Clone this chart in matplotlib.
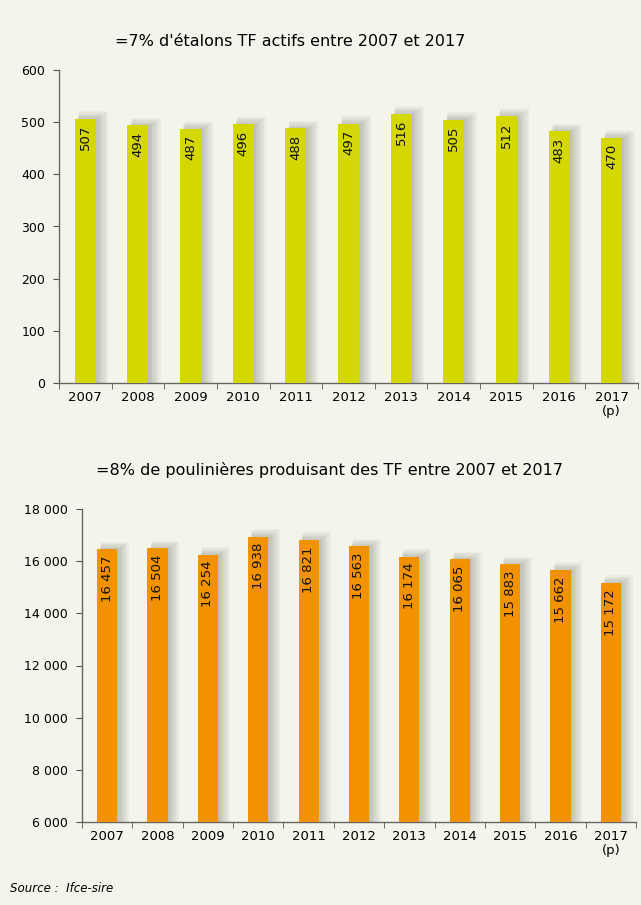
import numpy as np
import matplotlib.pyplot as plt

years = ["2007", "2008", "2009", "2010", "2011", "2012", "2013", "2014", "2015", "2016", "2017\n(p)"]
etalons = [507, 494, 487, 496, 488, 497, 516, 505, 512, 483, 470]
poulinieres = [16457, 16504, 16254, 16938, 16821, 16563, 16174, 16065, 15883, 15662, 15172]

title1 = "=7% d'étalons TF actifs entre 2007 et 2017"
title2 = "=8% de poulinières produisant des TF entre 2007 et 2017"

bg = "#f4f5ea"
W, H = 641, 905

plt.rcParams['font.family'] = ['DejaVu Sans']

fig = plt.figure(figsize=(W / 100, H / 100), dpi=100, facecolor=bg)


def fmt(v):
    return f"{v:,}".replace(",", " ")


def draw(rect, values, color, ymin, ymax, step, title, title_xy):
    ax = fig.add_axes(rect)
    ax.set_facecolor(bg)
    x = np.arange(len(values))
    w = 0.4
    span = ymax - ymin
    # soft shadow to the right
    for k in range(7):
        off = 0.04 + k * 0.02
        ax.bar(x + off, np.array(values) - ymin + span * 0.004 * k, width=w + k * 0.025, bottom=ymin,
               color="#000000", alpha=0.03, zorder=1, linewidth=0)
    ax.bar(x, np.array(values) - ymin, width=w, bottom=ymin, color=color, zorder=3, linewidth=0)
    for xi, v in zip(x, values):
        ax.text(xi, v - span * 0.02, fmt(v), rotation=90, ha="center", va="top",
                fontsize=9.5, zorder=4, color="#111111")
    ax.set_xlim(-0.5, len(values) - 0.5)
    ax.set_ylim(ymin, ymax)
    ax.set_yticks(np.arange(ymin, ymax + 1, step))
    ax.set_yticklabels([fmt(t) for t in range(ymin, ymax + 1, step)], fontsize=9)
    ax.set_xticks(x)
    ax.set_xticklabels(years, fontsize=9.5, linespacing=1.1)
    ax.set_xticks(np.arange(-0.5, len(values), 1), minor=True)
    ax.tick_params(axis="x", which="major", length=0, pad=6)
    ax.tick_params(axis="x", which="minor", length=4, color="#555555")
    ax.tick_params(axis="y", length=4, color="#555555", pad=6)
    for s in ["top", "right"]:
        ax.spines[s].set_visible(False)
    for s in ["left", "bottom"]:
        ax.spines[s].set_color("#666666")
        ax.spines[s].set_linewidth(1)
    fig.text(title_xy[0] / W, 1 - title_xy[1] / H, title, ha="center", va="center", fontsize=11.5)
    return ax


draw([59 / W, 1 - 383 / H, (638 - 59) / W, (383 - 70) / H], etalons, "#d4d700",
     0, 600, 100, title1, (290, 42))
draw([82 / W, 1 - 822 / H, (636 - 82) / W, (822 - 509) / H], poulinieres, "#f39200",
     6000, 18000, 2000, title2, (330, 470))

fig.text(10 / W, 1 - 888 / H, "Source :  Ifce-sire", style="italic", fontsize=8.5, va="center")

fig.savefig("out.png", dpi=100, facecolor=bg)
